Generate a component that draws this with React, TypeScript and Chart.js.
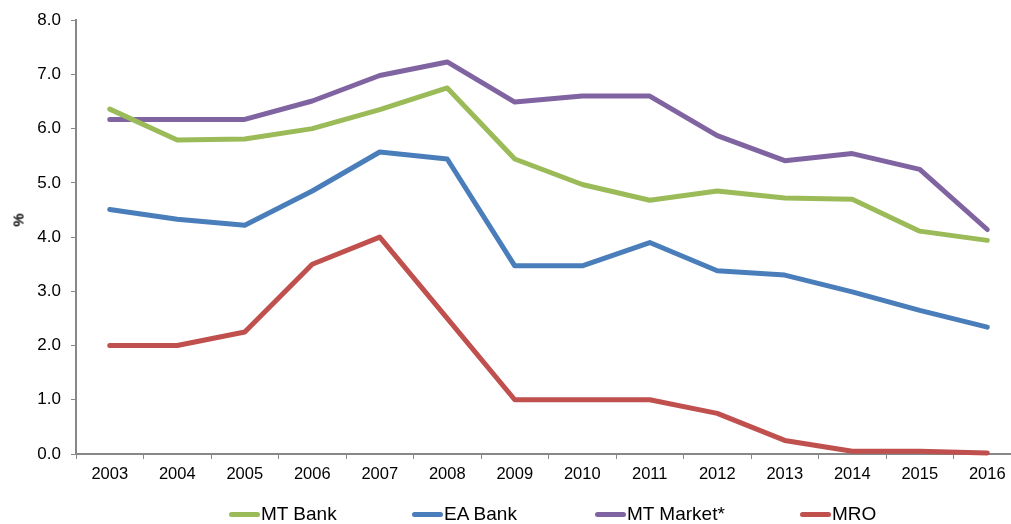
import React, { useEffect, useRef } from "react";
import { Chart, registerables } from "chart.js";

Chart.register(...registerables);

const years = ["2003", "2004", "2005", "2006", "2007", "2008", "2009", "2010", "2011", "2012", "2013", "2014", "2015", "2016"];
const mtBank = [6.36, 5.79, 5.81, 6.0, 6.35, 6.75, 5.44, 4.97, 4.68, 4.85, 4.72, 4.7, 4.11, 3.94];
const eaBank = [4.51, 4.33, 4.22, 4.85, 5.57, 5.44, 3.47, 3.47, 3.9, 3.38, 3.3, 2.99, 2.65, 2.34];
const mtMarket = [6.17, 6.17, 6.17, 6.51, 6.98, 7.23, 6.49, 6.6, 6.6, 5.87, 5.41, 5.54, 5.25, 4.14];
const mro = [2.0, 2.0, 2.25, 3.5, 4.0, 2.5, 1.0, 1.0, 1.0, 0.75, 0.25, 0.05, 0.05, 0.02];
const yTicks = [0, 1, 2, 3, 4, 5, 6, 7, 8];

const seriesNames = ["MT Bank", "EA Bank", "MT Market*", "MRO"];
const seriesColors = ["#9BBB59", "#4A7EBB", "#8064A2", "#C0504D"];
const seriesValues = [mtBank, eaBank, mtMarket, mro];

const FONT = '"Liberation Sans", Arial, sans-serif';
const AXIS_GREY = "#878787";

// legend item positions along the bottom row
const legendX = [229, 412, 595, 800];

export default function App() {
  const canvasRef = useRef<HTMLCanvasElement | null>(null);

  useEffect(() => {
    const canvas = canvasRef.current;
    if (!canvas) return;
    const chart = new Chart(canvas, {
      type: "line",
      data: {
        labels: years,
        datasets: seriesNames.map((name, i) => ({
          label: name,
          data: seriesValues[i],
          borderColor: seriesColors[i],
          backgroundColor: seriesColors[i],
          borderWidth: 5,
          pointRadius: 0,
          tension: 0,
          borderCapStyle: "round" as const,
          borderJoinStyle: "round" as const,
          clip: false as any,
        })),
      },
      options: {
        animation: false,
        responsive: false,
        devicePixelRatio: 1,
        layout: { padding: { left: 0, right: 9, top: 20, bottom: 40 } },
        plugins: {
          legend: { display: false },
          tooltip: { enabled: false },
        },
        scales: {
          x: {
            type: "category",
            offset: true,
            afterFit: (scale: any) => {
              scale.height = 30;
            },
            grid: {
              offset: true,
              drawOnChartArea: false,
              drawTicks: true,
              tickLength: 5,
              color: AXIS_GREY,
              lineWidth: 1,
            },
            border: { display: true, color: AXIS_GREY, width: 2 },
            ticks: {
              color: "#000",
              padding: 6,
              maxRotation: 0,
              autoSkip: false,
              font: { family: FONT, size: 16.5 },
            },
          },
          y: {
            min: 0,
            max: 8,
            afterFit: (scale: any) => {
              scale.width = 76;
            },
            afterBuildTicks: (scale: any) => {
              scale.ticks = yTicks.map((v) => ({ value: v }));
            },
            grid: {
              drawOnChartArea: false,
              drawTicks: true,
              tickLength: 5,
              color: AXIS_GREY,
              lineWidth: 1,
            },
            border: { display: true, color: AXIS_GREY, width: 2 },
            ticks: {
              color: "#000",
              padding: 10,
              font: { family: FONT, size: 17 },
              callback: (v: any) => Number(v).toFixed(1),
            },
          },
        },
      },
    });
    return () => chart.destroy();
  }, []);

  return (
    <div
      style={{
        position: "absolute",
        left: 0,
        top: 0,
        width: 1011,
        height: 524,
        overflow: "hidden",
        background: "#fff",
        fontFamily: FONT,
      }}
    >
      <canvas ref={canvasRef} width={1030} height={524} style={{ display: "block" }} />
      <div
        style={{
          position: "absolute",
          left: 18,
          top: 220,
          transform: "translate(-50%, -50%) rotate(-90deg)",
          fontSize: 15,
          fontWeight: "bold",
          color: "#000",
        }}
      >
        %
      </div>
      {seriesNames.map((name, i) => (
        <div
          key={name}
          style={{
            position: "absolute",
            left: legendX[i],
            top: 503,
            height: 22,
            display: "flex",
            alignItems: "center",
            fontSize: 19,
            color: "#000",
            whiteSpace: "nowrap",
          }}
        >
          <span
            style={{
              display: "inline-block",
              width: 31,
              height: 5,
              borderRadius: 3,
              background: seriesColors[i],
              marginRight: 1,
            }}
          />
          <span>{name}</span>
        </div>
      ))}
    </div>
  );
}
